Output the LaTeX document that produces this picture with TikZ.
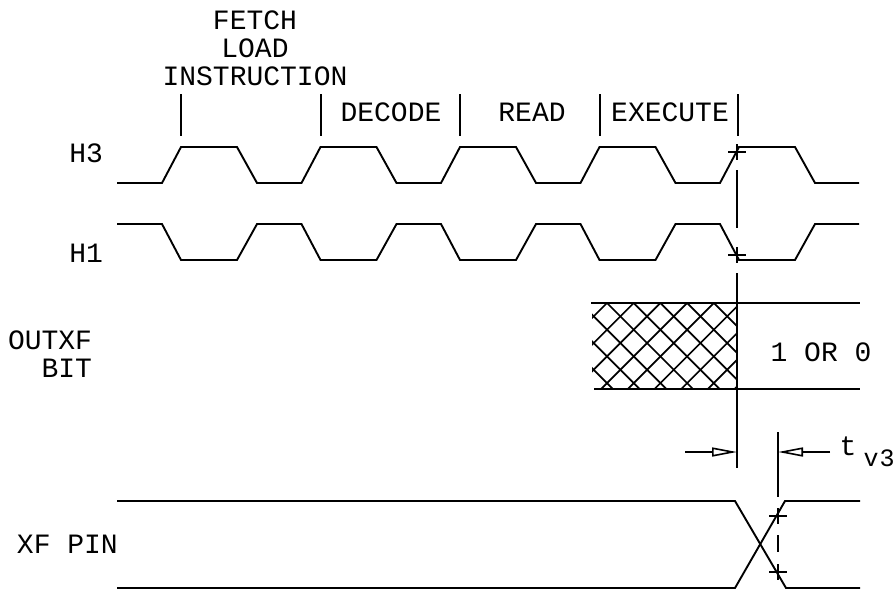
\documentclass[tikz,border=0pt]{standalone}
\usepackage{fontspec}
\newfontfamily\plotfont{Liberation Mono}
\usetikzlibrary{arrows.meta}
\begin{document}
\begin{tikzpicture}[x=1pt,y=-1pt,line width=1.9pt,
  lbl/.style={font=\plotfont\fontsize{28}{28}\selectfont,inner sep=0pt},
  sublbl/.style={font=\plotfont\fontsize{25}{25}\selectfont,inner sep=0pt},
  sig/.style={line join=miter},
  hatchline/.style={line width=1.7pt},
  dimarrow/.style={-{Triangle[open,length=25pt,width=9pt,line width=1.6pt]}},
  crossmark/.style={line width=1.7pt}]
\useasboundingbox (0,0) rectangle (896,590);

% labels
\node[lbl,anchor=east] (lh3) at (104,153) {H3};
\node[lbl,anchor=east] (lh1) at (104,253) {H1};
\node[lbl,anchor=east] (lout) at (93,340) {OUTXF};
\node[lbl,anchor=east] (lbit) at (93,368) {BIT};
\node[lbl,anchor=west] (lxf) at (16,544) {XF PIN};
\node[lbl] (fetch) at (255,20) {FETCH};
\node[lbl] (load) at (255,48) {LOAD};
\node[lbl] (instr) at (255,76) {INSTRUCTION};
\node[lbl] (decode) at (391,112) {DECODE};
\node[lbl] (read) at (532,112) {READ};
\node[lbl] (exec) at (670,112) {EXECUTE};
\node[lbl] (oneor) at (821,352) {1 OR 0};
\node[lbl] (tlab) at (848,446) {t};
\node[sublbl] (vlab) at (879,458) {v\kern1pt 3};

% phase bars
\foreach \x in {181,321,460,600,738} \draw (\x,94) -- (\x,136);

% H3
\draw[sig] (117,183) -- (162,183) -- (181,147) -- (237,147) -- (257,183)
  -- (301.5,183) -- (320.5,147) -- (376.5,147) -- (396.5,183)
  -- (441,183) -- (460,147) -- (516,147) -- (536,183)
  -- (580.5,183) -- (599.5,147) -- (655.5,147) -- (675.5,183)
  -- (720,183) -- (739,147) -- (795,147) -- (815,183) -- (859,183);
% H1
\draw[sig] (117,224) -- (162,224) -- (181,260) -- (237,260) -- (257,224)
  -- (301.5,224) -- (320.5,260) -- (376.5,260) -- (396.5,224)
  -- (441,224) -- (460,260) -- (516,260) -- (536,224)
  -- (580.5,224) -- (599.5,260) -- (655.5,260) -- (675.5,224)
  -- (720,224) -- (739,260) -- (795,260) -- (815,224) -- (859,224);

% reference line at x=737
\coordinate (c1) at (737,152);
\coordinate (c2) at (737,255);
\draw[crossmark] (c1) ++(-9,0) -- ++(18,0) (c1) ++(0,-8) -- ++(0,16);
\draw[crossmark] (c2) ++(-9,0) -- ++(18,0) (c2) ++(0,-8) -- ++(0,16);
\draw (737,170) -- (737,228);
\draw (737,273) -- (737,468);

% OUTXF bit
\begin{scope}
  \clip (592,303) rectangle (737,389);
  \foreach \k in {-6,...,9} {
    \draw[hatchline] ({304+26.7*\k+303},303) -- ++(86,86);
    \draw[hatchline] ({910+26.7*\k-303},303) -- ++(-86,86);
  }
\end{scope}
\draw (591,303) -- (860,303);
\draw (594,389) -- (860,389);

% dimension tv3
\coordinate (a1) at (685,452);
\coordinate (a2) at (737,452);
\coordinate (b1) at (830,452);
\coordinate (b2) at (778,452);
\draw[dimarrow] (a1) -- (a2);
\draw[dimarrow] (b1) -- (b2);
\draw (778,432) -- (778,497);

% XF pin
\draw[sig] (117,501) -- (735,501) -- (786,588) -- (860,588);
\draw[sig] (117,588) -- (735,588) -- (785,501) -- (860,501);
\coordinate (c3) at (778,516);
\coordinate (c4) at (778,572);
\draw[crossmark] (c3) ++(-9,0) -- ++(18,0) (c3) ++(0,-8) -- ++(0,16);
\draw[crossmark] (c4) ++(-9,0) -- ++(18,0) (c4) ++(0,-8) -- ++(0,16);
\draw (778,535) -- (778,552);
\end{tikzpicture}
\end{document}
